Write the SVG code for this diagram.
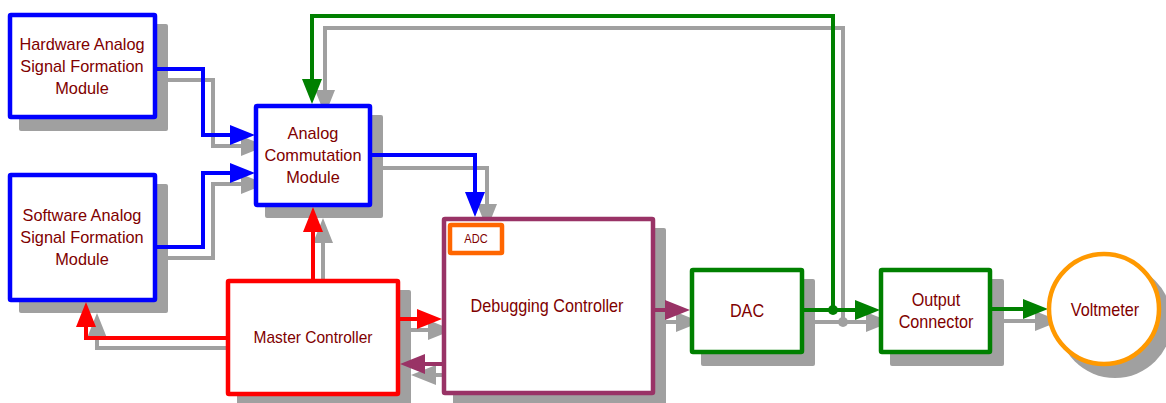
<svg xmlns="http://www.w3.org/2000/svg" width="1166" height="403" viewBox="0 0 1166 403">
<style>
.sh{fill:#a0a0a0;stroke:none}
.gl{fill:none;stroke:#a0a0a0;stroke-width:4;stroke-linejoin:miter}
.box{fill:#fff;stroke-width:4.5}
.bl{stroke:#0000ff}.rd{stroke:#ff0000}.pu{stroke:#993366}.gr{stroke:#008000}.or{stroke:#ff6600}.yo{stroke:#ff9900}
.ln{fill:none;stroke-width:4;stroke-linejoin:miter}
text{font-family:"Liberation Sans",Arial,sans-serif;font-size:16px;fill:#800000;text-anchor:middle}
.t17{font-size:17px}.t18{font-size:18px}.t12{font-size:12px}
</style>
<defs>
<marker id="aG" markerUnits="userSpaceOnUse" markerWidth="26" markerHeight="20" refX="0" refY="10" orient="auto"><path d="M0,0 L25,10 L0,20 z" fill="#a0a0a0"/></marker>
<marker id="aB" markerUnits="userSpaceOnUse" markerWidth="26" markerHeight="20" refX="0" refY="10" orient="auto"><path d="M0,0 L25,10 L0,20 z" fill="#0000ff"/></marker>
<marker id="aR" markerUnits="userSpaceOnUse" markerWidth="26" markerHeight="20" refX="0" refY="10" orient="auto"><path d="M0,0 L25,10 L0,20 z" fill="#ff0000"/></marker>
<marker id="aP" markerUnits="userSpaceOnUse" markerWidth="26" markerHeight="20" refX="0" refY="10" orient="auto"><path d="M0,0 L25,10 L0,20 z" fill="#993366"/></marker>
<marker id="aN" markerUnits="userSpaceOnUse" markerWidth="26" markerHeight="20" refX="0" refY="10" orient="auto"><path d="M0,0 L25,10 L0,20 z" fill="#008000"/></marker>
</defs>
<g id="shadows">
<rect class="sh" x="19" y="24" width="149" height="107" rx="2"/>
<rect class="sh" x="19" y="184" width="149" height="129" rx="2"/>
<rect class="sh" x="265" y="115" width="118" height="103" rx="2"/>
<rect class="sh" x="237" y="290" width="174" height="117" rx="2"/>
<rect class="sh" x="453" y="228" width="213" height="178" rx="2"/>
<rect class="sh" x="701" y="279" width="114" height="87" rx="2"/>
<rect class="sh" x="890" y="279" width="114" height="87" rx="2"/>
<circle class="sh" cx="1115" cy="321" r="57"/>
<path class="gl" marker-end="url(#aG)" d="M168,80 H213 V146 H241"/>
<path class="gl" marker-end="url(#aG)" d="M168,258 H213 V184 H241"/>
<path class="gl" marker-end="url(#aG)" d="M383,168 H487 V204"/>
<path class="gl" marker-end="url(#aG)" d="M323,290 V243"/>
<path class="gl" marker-end="url(#aG)" d="M237,348 H97 V338"/>
<path class="gl" marker-end="url(#aG)" d="M411,330 H428"/>
<path class="gl" marker-end="url(#aG)" d="M453,375 H436"/>
<path class="gl" marker-end="url(#aG)" d="M666,322 H676"/>
<path class="gl" marker-end="url(#aG)" d="M815,322 H866"/>
<path class="gl" marker-end="url(#aG)" d="M843,322 V28 H325 V90"/>
<path class="gl" marker-end="url(#aG)" d="M1003,321 H1035"/>
<circle cx="843" cy="322" r="5" fill="#a0a0a0"/>
</g>
<g id="connectors">
<path class="ln bl" marker-end="url(#aB)" d="M157,69 H203 V135 H230"/>
<path class="ln bl" marker-end="url(#aB)" d="M157,247 H203 V173 H230"/>
<path class="ln bl" marker-end="url(#aB)" d="M372,155 H475 V192"/>
<path class="ln rd" marker-end="url(#aR)" d="M313,279 V232"/>
<path class="ln rd" marker-end="url(#aR)" d="M226,338 H86 V327"/>
<path class="ln rd" marker-end="url(#aR)" d="M400,319 H417"/>
<path class="ln pu" marker-end="url(#aP)" d="M442,364 H425"/>
<path class="ln pu" marker-end="url(#aP)" d="M655,310 H665"/>
<path class="ln gr" marker-end="url(#aN)" d="M804,310 H855"/>
<path class="ln gr" marker-end="url(#aN)" d="M833,310 V16 H312 V79"/>
<path class="ln gr" marker-end="url(#aN)" d="M992,309 H1023"/>
<circle cx="833" cy="310" r="5" fill="#008000"/>
</g>
<g id="hardware">
<rect class="box bl" x="10" y="15" width="145" height="102" rx="1"/>
<text class="t17" transform="translate(82 50) scale(0.96 1)">Hardware Analog</text>
<text class="t17" transform="translate(82 72) scale(0.96 1)">Signal Formation</text>
<text class="t17" transform="translate(82 94) scale(0.96 1)">Module</text>
</g>
<g id="software">
<rect class="box bl" x="10" y="175" width="145" height="125" rx="1"/>
<text class="t17" transform="translate(82 221) scale(0.96 1)">Software Analog</text>
<text class="t17" transform="translate(82 243) scale(0.96 1)">Signal Formation</text>
<text class="t17" transform="translate(82 265) scale(0.96 1)">Module</text>
</g>
<g id="analog">
<rect class="box bl" x="256" y="106" width="114" height="99" rx="1"/>
<text class="t17" transform="translate(313 139) scale(0.96 1)">Analog</text>
<text class="t17" transform="translate(313 161) scale(0.96 1)">Commutation</text>
<text class="t17" transform="translate(313 183) scale(0.96 1)">Module</text>
</g>
<g id="master">
<rect class="box rd" x="228" y="281" width="170" height="113" rx="1"/>
<text transform="translate(313 343) scale(0.97 1)">Master Controller</text>
</g>
<g id="debugging">
<rect class="box pu" x="444" y="219" width="209" height="174" rx="1"/>
<text class="t18" transform="translate(547 312) scale(0.9 1)">Debugging Controller</text>
</g>
<g id="adc">
<rect class="box or" x="450" y="225" width="52" height="28" rx="1"/>
<text class="t12" transform="translate(476 243) scale(0.92 1)">ADC</text>
</g>
<g id="dac">
<rect class="box gr" x="692" y="270" width="110" height="82" rx="1"/>
<text class="t18" transform="translate(747 317) scale(0.9 1)">DAC</text>
</g>
<g id="output">
<rect class="box gr" x="881" y="270" width="109" height="82" rx="1"/>
<text class="t18" transform="translate(936 306) scale(0.9 1)">Output</text>
<text class="t18" transform="translate(936 328) scale(0.9 1)">Connector</text>
</g>
<g id="voltmeter">
<circle class="box yo" cx="1104" cy="309" r="55"/>
<text class="t18" transform="translate(1105 316) scale(0.9 1)">Voltmeter</text>
</g>
</svg>
